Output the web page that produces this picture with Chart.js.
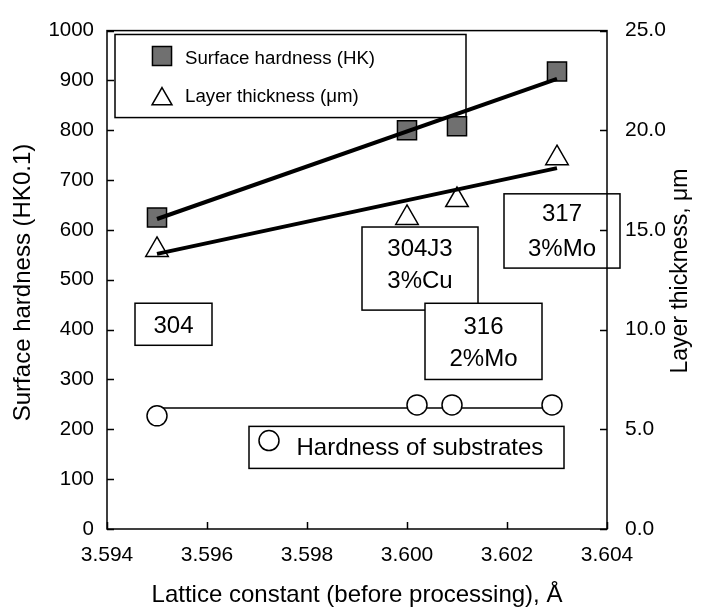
<!DOCTYPE html>
<html>
<head>
<meta charset="UTF-8">
<title>Surface hardness vs lattice constant</title>
<script src="https://cdn.jsdelivr.net/npm/chart.js"></script>
<style>
  html, body { margin: 0; padding: 0; background: #fff; }
</style>
</head>
<body>
<canvas id="hardnessChart" width="702" height="611"></canvas>
<script>
// values
const latticeConst = [3.595, 3.600, 3.601, 3.603];
const surfaceHardness = [625, 800, 808, 918];      // HK0.1, left axis
const layerThickness = [14.0, 15.6, 16.5, 18.6];   // um, right axis
const substrateLattice = [3.595, 3.6002, 3.6009, 3.6029];
const substrateHardness = [227, 249, 249, 249];

// trend lines (end points)
const fitLattice = [3.595, 3.603];
const hardnessFit = [622, 903];
const thicknessFit = [13.8, 18.1];
const substrateFitLattice = [3.5951, 3.6029];
const substrateFit = [243, 243];

const xTicks = [3.594, 3.596, 3.598, 3.600, 3.602, 3.604];
const hardnessTicks = [0, 100, 200, 300, 400, 500, 600, 700, 800, 900, 1000];
const thicknessTicks = [0, 5, 10, 15, 20, 25];

const FONT = "'Liberation Sans', Arial, Helvetica, sans-serif";

// text boxes, placed in data units (x = lattice, y = left axis)
const noteBoxes = [
    { x: [3.59456, 3.5961], y: [453, 368.6], lines: [['304', 405.9]] },
    { x: [3.5991, 3.60142], y: [605.9, 439.2], lines: [['304J3', 561.8], ['3%Cu', 496.1]] },
    { x: [3.60036, 3.6027], y: [452.9, 300], lines: [['316', 403.9], ['2%Mo', 341.2]] },
    { x: [3.60194, 3.60426], y: [672.5, 523.5], lines: [['317', 630.4], ['3%Mo', 561.8]] }
];

function toXY(data_x, data_y) {
    return data_x.map((v, i) => ({ x: v, y: data_y[i] }));
}

function drawMarker(ctx, style, x, y, r) {
    ctx.beginPath();
    if (style === 'rect') {
        const s = Math.SQRT1_2 * r;
        ctx.rect(x - s, y - s, 2 * s, 2 * s);
        ctx.fillStyle = '#707070';
    } else if (style === 'triangle') {
        ctx.moveTo(x, y - r);
        ctx.lineTo(x + r * Math.sin(Math.PI * 2 / 3), y + r / 2);
        ctx.lineTo(x - r * Math.sin(Math.PI * 2 / 3), y + r / 2);
        ctx.closePath();
        ctx.fillStyle = '#fff';
    } else {
        ctx.arc(x, y, r, 0, Math.PI * 2);
        ctx.fillStyle = '#fff';
    }
    ctx.fill();
    ctx.lineWidth = 1.5;
    ctx.strokeStyle = '#000';
    ctx.stroke();
}

const figurePlugin = {
    id: 'figureBits',
    beforeDatasetsDraw(chart) {
        const ctx = chart.ctx;
        const sx = chart.scales.x, sy = chart.scales.y;
        ctx.save();
        ctx.lineWidth = 1.5;
        ctx.strokeStyle = '#000';
        ctx.fillStyle = '#000';
        ctx.textBaseline = 'middle';

        // legend for the two upper series
        let l = sx.getPixelForValue(3.59416), r = sx.getPixelForValue(3.60118);
        let t = sy.getPixelForValue(992.2), b = sy.getPixelForValue(825.5);
        ctx.fillStyle = '#fff';
        ctx.fillRect(l, t, r - l, b - t);
        ctx.strokeRect(l, t, r - l, b - t);
        drawMarker(ctx, 'rect', sx.getPixelForValue(3.5951), sy.getPixelForValue(949), 13.5);
        drawMarker(ctx, 'triangle', sx.getPixelForValue(3.5951), sy.getPixelForValue(862.7), 11.5);
        ctx.fillStyle = '#000';
        ctx.font = '18.7px ' + FONT;
        ctx.textAlign = 'left';
        ctx.fillText('Surface hardness (HK)', sx.getPixelForValue(3.59556), sy.getPixelForValue(944));
        ctx.fillText('Layer thickness (\u03bcm)', sx.getPixelForValue(3.59556), sy.getPixelForValue(867));

        // legend for the substrates
        l = sx.getPixelForValue(3.59684); r = sx.getPixelForValue(3.60314);
        t = sy.getPixelForValue(205.9); b = sy.getPixelForValue(121.6);
        ctx.fillStyle = '#fff';
        ctx.fillRect(l, t, r - l, b - t);
        ctx.strokeRect(l, t, r - l, b - t);
        drawMarker(ctx, 'circle', sx.getPixelForValue(3.59724), sy.getPixelForValue(177.5), 10);
        ctx.fillStyle = '#000';
        ctx.font = '24px ' + FONT;
        ctx.fillText('Hardness of substrates', sx.getPixelForValue(3.59779), sy.getPixelForValue(162.7));

        // grade labels
        ctx.textAlign = 'center';
        for (const box of noteBoxes) {
            l = sx.getPixelForValue(box.x[0]); r = sx.getPixelForValue(box.x[1]);
            t = sy.getPixelForValue(box.y[0]); b = sy.getPixelForValue(box.y[1]);
            ctx.fillStyle = '#fff';
            ctx.fillRect(l, t, r - l, b - t);
            ctx.strokeRect(l, t, r - l, b - t);
            ctx.fillStyle = '#000';
            for (const [txt, yv] of box.lines) {
                ctx.fillText(txt, (l + r) / 2, sy.getPixelForValue(yv));
            }
        }
        ctx.restore();
    },
    afterDraw(chart) {
        const ctx = chart.ctx;
        const a = chart.chartArea;
        const sx = chart.scales.x, sy = chart.scales.y, sy2 = chart.scales.y2;
        const tick = 7;
        ctx.save();
        ctx.strokeStyle = '#000';
        ctx.lineWidth = 1.5;
        ctx.strokeRect(a.left, a.top, a.right - a.left, a.bottom - a.top);
        ctx.beginPath();
        for (const v of xTicks) {
            const p = Math.round(sx.getPixelForValue(v)) + 0.5;
            ctx.moveTo(p, a.bottom); ctx.lineTo(p, a.bottom - tick);
        }
        for (const v of hardnessTicks) {
            const p = Math.round(sy.getPixelForValue(v)) + 0.5;
            ctx.moveTo(a.left, p); ctx.lineTo(a.left + tick, p);
        }
        for (const v of thicknessTicks) {
            const p = Math.round(sy2.getPixelForValue(v)) + 0.5;
            ctx.moveTo(a.right, p); ctx.lineTo(a.right - tick, p);
        }
        ctx.stroke();

        // vertical axis titles, both read bottom to top
        ctx.fillStyle = '#000';
        ctx.textAlign = 'center';
        ctx.textBaseline = 'middle';
        ctx.font = '24px ' + FONT;
        ctx.translate(23.5, 282.5);
        ctx.rotate(-Math.PI / 2);
        ctx.fillText('Surface hardness (HK0.1)', 0, 0);
        ctx.setTransform(1, 0, 0, 1, 0, 0);
        ctx.font = '23px ' + FONT;
        ctx.translate(681, 271);
        ctx.rotate(-Math.PI / 2);
        ctx.fillText('Layer thickness, \u03bcm', 0, 0);
        ctx.restore();
    }
};

Chart.defaults.font.family = FONT;
Chart.defaults.color = '#000';

new Chart(document.getElementById('hardnessChart'), {
    type: 'scatter',
    data: {
        datasets: [
            {
                label: 'Hardness fit',
                data: toXY(fitLattice, hardnessFit),
                showLine: true, pointRadius: 0,
                borderColor: '#000', borderWidth: 4,
                yAxisID: 'y', order: 0
            },
            {
                label: 'Thickness fit',
                data: toXY(fitLattice, thicknessFit),
                showLine: true, pointRadius: 0,
                borderColor: '#000', borderWidth: 4,
                yAxisID: 'y2', order: 0
            },
            {
                label: 'Surface hardness (HK)',
                data: toXY(latticeConst, surfaceHardness),
                pointStyle: 'rect', pointRadius: 13.5,
                backgroundColor: '#707070', borderColor: '#000', borderWidth: 1.5,
                yAxisID: 'y', order: 1
            },
            {
                label: 'Layer thickness (\u03bcm)',
                data: toXY(latticeConst, layerThickness),
                pointStyle: 'triangle', pointRadius: 13,
                backgroundColor: '#fff', borderColor: '#000', borderWidth: 1.5,
                yAxisID: 'y2', order: 1
            },
            {
                label: 'Hardness of substrates',
                data: toXY(substrateLattice, substrateHardness),
                pointStyle: 'circle', pointRadius: 10,
                backgroundColor: '#fff', borderColor: '#000', borderWidth: 1.5,
                yAxisID: 'y', order: 1
            },
            {
                label: 'Substrate fit',
                data: toXY(substrateFitLattice, substrateFit),
                showLine: true, pointRadius: 0,
                borderColor: '#000', borderWidth: 1.5,
                yAxisID: 'y', order: 2
            }
        ]
    },
    options: {
        responsive: false,
        animation: false,
        events: [],
        layout: { padding: { top: 19, left: 0, right: 0, bottom: 0 } },
        plugins: {
            legend: { display: false },
            tooltip: { enabled: false }
        },
        scales: {
            x: {
                type: 'linear',
                min: 3.594, max: 3.604,
                afterBuildTicks: (s) => { s.ticks = xTicks.map(v => ({ value: v })); },
                afterFit: (s) => { s.height = 82; },
                ticks: {
                    font: { size: 21 }, padding: 14,
                    callback: (v) => Number(v).toFixed(3)
                },
                grid: { display: false, drawTicks: false },
                border: { display: false },
                title: {
                    display: true,
                    text: 'Lattice constant (before processing), \u00c5',
                    font: { size: 24 },
                    padding: { top: 0, bottom: 1 }
                }
            },
            y: {
                position: 'left',
                min: 0, max: 1000,
                afterBuildTicks: (s) => { s.ticks = hardnessTicks.map(v => ({ value: v })); },
                afterFit: (s) => { s.width = 107; },
                ticks: {
                    font: { size: 20.5 }, padding: 13,
                    callback: (v) => String(v)
                },
                grid: { display: false, drawTicks: false },
                border: { display: false }
            },
            y2: {
                position: 'right',
                min: 0, max: 25,
                afterBuildTicks: (s) => { s.ticks = thicknessTicks.map(v => ({ value: v })); },
                afterFit: (s) => { s.width = 95; },
                ticks: {
                    font: { size: 21 }, padding: 18,
                    callback: (v) => Number(v).toFixed(1)
                },
                grid: { display: false, drawTicks: false },
                border: { display: false }
            }
        }
    },
    plugins: [figurePlugin]
});
</script>
</body>
</html>
